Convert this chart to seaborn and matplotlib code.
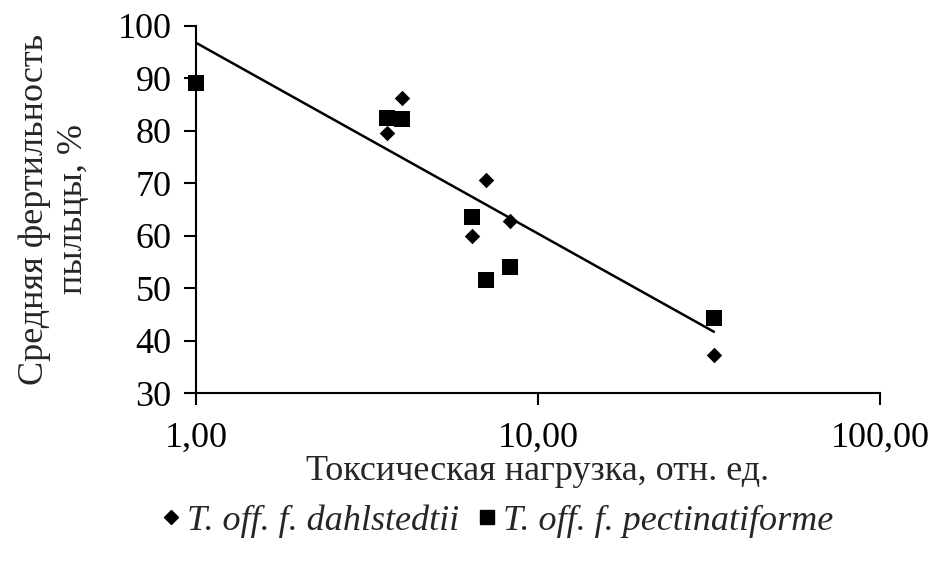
import numpy as np
import pandas as pd
import matplotlib
matplotlib.use("Agg")
import matplotlib.pyplot as plt
import seaborn as sns
from matplotlib.ticker import FixedLocator, FuncFormatter, NullLocator
from matplotlib.lines import Line2D

# ---- data ----
dahl_x = [3.99, 3.61, 7.03, 8.28, 6.40, 32.7]
dahl_y = [86.3, 79.6, 70.6, 62.8, 59.9, 37.3]
pect_x = [1.00, 3.61, 3.99, 6.40, 8.28, 7.03, 32.7]
pect_y = [89.2, 82.4, 82.2, 63.6, 54.1, 51.5, 44.3]
# logarithmic trend line: y = a + b*log10(x)
trend_a = 96.8
trend_b = -36.4
series_names = ["T. off. f. dahlstedtii", "T. off. f. pectinatiforme"]
y_ticks = [30, 40, 50, 60, 70, 80, 90, 100]
x_ticks = [1, 10, 100]
x_tick_labels = ["1,00", "10,00", "100,00"]
x_label = "Токсическая нагрузка, отн. ед."
y_label = "Средняя фертильность\nпыльцы, %"

sns.set_style("ticks")
plt.rcParams["font.family"] = ["Liberation Serif", "DejaVu Serif"]

df_d = pd.DataFrame({"x": dahl_x, "y": dahl_y})
df_p = pd.DataFrame({"x": pect_x, "y": pect_y})

fig = plt.figure(figsize=(9.34, 5.62), dpi=100)
ax = fig.add_axes([196 / 934, 1 - 393 / 562, (880 - 196) / 934, (393 - 26) / 562])

ax.set_xscale("log")
ax.set_xlim(1, 100)
ax.set_ylim(30, 100)

# trend line over the data range
all_x = np.array(dahl_x + pect_x)
tx = np.array([all_x.min(), all_x.max()])
ty = trend_a + trend_b * np.log10(tx)
sns.lineplot(x=tx, y=ty, ax=ax, color="black", linewidth=1.8, zorder=2)

sns.scatterplot(data=df_d, x="x", y="y", ax=ax, marker="D", s=62, color="black",
                edgecolor="black", linewidth=0, zorder=3, clip_on=False)
sns.scatterplot(data=df_p, x="x", y="y", ax=ax, marker="s", s=117, color="black",
                edgecolor="black", linewidth=0, zorder=3, clip_on=False)

ax.xaxis.set_major_locator(FixedLocator(x_ticks))
ax.xaxis.set_minor_locator(NullLocator())
ax.xaxis.set_major_formatter(FuncFormatter(
    lambda v, p: x_tick_labels[x_ticks.index(int(round(v)))] if int(round(v)) in x_ticks else ""))
ax.set_yticks(y_ticks)

for s in ["top", "right"]:
    ax.spines[s].set_visible(False)
for s in ["left", "bottom"]:
    ax.spines[s].set_linewidth(1.5)
    ax.spines[s].set_color("black")

ax.tick_params(axis="both", which="major", direction="out", length=8.6, width=1.5,
               colors="black", labelsize=26)
ax.tick_params(axis="y", pad=9)
ax.tick_params(axis="x", pad=12)

ax.set_xlabel(x_label, fontsize=26, labelpad=0)
ax.set_ylabel(y_label, fontsize=26, labelpad=20, linespacing=1.25)
ax.set_facecolor("white")
fig.patch.set_facecolor("white")

handles = [
    Line2D([0], [0], marker="D", color="black", linestyle="none", markersize=7),
    Line2D([0], [0], marker="s", color="black", linestyle="none", markersize=9.5),
]
fig.legend(handles, series_names, loc="center", bbox_to_anchor=(0.529, 1 - 521 / 562),
           ncol=2, frameon=False, prop={"style": "italic", "size": 26},
           handletextpad=0.0, columnspacing=0.3, handlelength=0.9)

fig.savefig("out.png", dpi=100)
